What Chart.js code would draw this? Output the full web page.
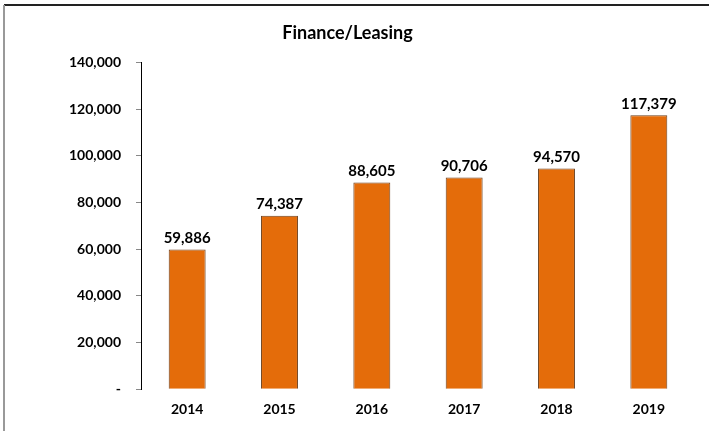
<!DOCTYPE html>
<html>
<head>
<meta charset="utf-8">
<script src="https://cdn.jsdelivr.net/npm/chart.js@4/dist/chart.umd.min.js"></script>
<style>
  html, body { margin: 0; padding: 0; background: #fff; }
  #wrap { width: 709px; height: 431px; }
</style>
</head>
<body>
<div id="wrap"><canvas id="financeChart" width="709" height="431"></canvas></div>
<script>
var years = ["2014", "2015", "2016", "2017", "2018", "2019"];
var units = [59886, 74387, 88605, 90706, 94570, 117379];
var chartTitle = "Finance/Leasing";

var fontFam = "Lato, 'Open Sans', sans-serif";

function fmt(v) {
  if (v === 0) return "-";
  return v.toLocaleString("en-US");
}

// frame around the chart like the spreadsheet export
var framePlugin = {
  id: "frame",
  beforeDraw: function(chart) {
    var c = chart.ctx;
    c.save();
    c.fillStyle = "#fff";
    c.fillRect(0, 0, chart.width, chart.height);
    c.strokeStyle = "#222";
    c.lineWidth = 2;
    c.beginPath();
    c.moveTo(4, 5);
    c.lineTo(chart.width, 5);
    c.stroke();
    c.strokeStyle = "#999";
    c.lineWidth = 2;
    c.beginPath();
    c.moveTo(4, 5);
    c.lineTo(4, chart.height);
    c.stroke();
    c.restore();
  }
};

// value labels above each bar
var valueLabels = {
  id: "valueLabels",
  afterDatasetsDraw: function(chart) {
    var c = chart.ctx;
    var meta = chart.getDatasetMeta(0);
    c.save();
    c.font = "bold 15px " + fontFam;
    c.fillStyle = "#000";
    c.textAlign = "center";
    c.textBaseline = "bottom";
    meta.data.forEach(function(bar, i) {
      c.fillText(fmt(units[i]), bar.x, bar.y - 4);
    });
    c.restore();
  }
};

var ctx = document.getElementById("financeChart").getContext("2d");
new Chart(ctx, {
  type: "bar",
  data: {
    labels: years,
    datasets: [{
      data: units,
      backgroundColor: "#E46C0A",
      borderColor: "#6b3f1c",
      borderWidth: 1,
      categoryPercentage: 1,
      barPercentage: 0.4
    }]
  },
  options: {
    responsive: false,
    animation: false,
    layout: { padding: { left: 0, right: 14, top: 0, bottom: 9 } },
    plugins: {
      legend: { display: false },
      tooltip: { enabled: false },
      title: {
        display: true,
        text: chartTitle,
        color: "#000",
        font: { family: fontFam, size: 18, weight: "bold" },
        padding: { top: 22, bottom: 19 }
      }
    },
    scales: {
      x: {
        grid: { display: false },
        border: { display: false },
        ticks: {
          color: "#000",
          padding: 4,
          font: { family: fontFam, size: 14, weight: "bold" }
        }
      },
      y: {
        min: 0,
        max: 140000,
        afterFit: function(scale) { scale.width = 141; },
        grid: {
          drawOnChartArea: false,
          drawTicks: true,
          tickLength: 5,
          color: "#888"
        },
        border: { display: true, color: "#000", width: 1 },
        ticks: {
          stepSize: 20000,
          color: "#000",
          padding: 15,
          font: { family: fontFam, size: 14, weight: "bold" },
          callback: function(v) { return fmt(v); }
        }
      }
    }
  },
  plugins: [framePlugin, valueLabels]
});
</script>
</body>
</html>
